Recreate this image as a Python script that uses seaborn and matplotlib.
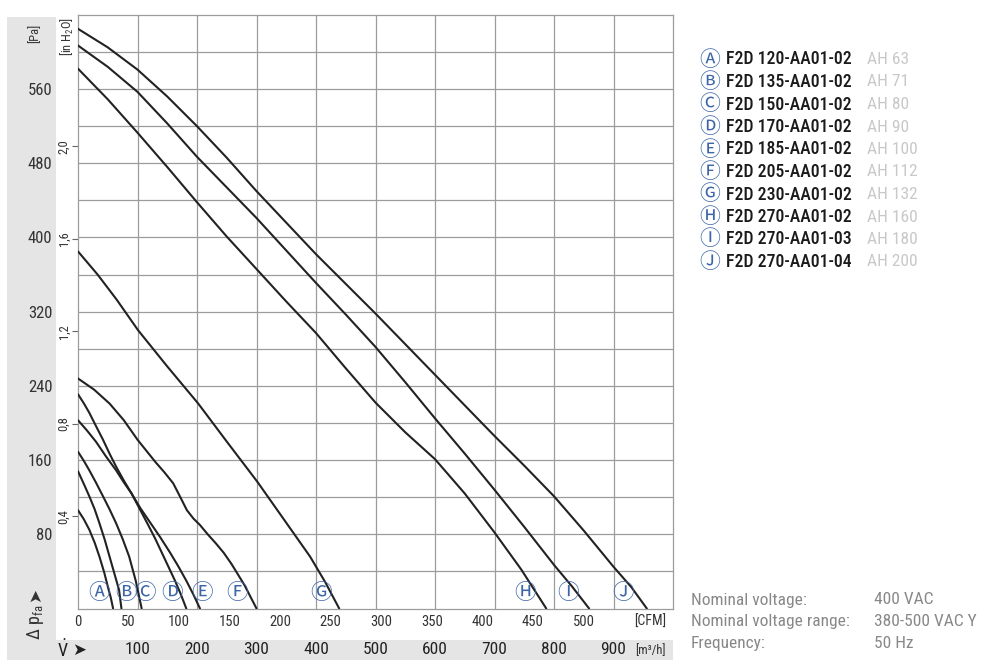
import matplotlib
matplotlib.use("Agg")
import matplotlib.pyplot as plt
from matplotlib import font_manager
from matplotlib.patches import Rectangle
import seaborn as sns
import pandas as pd

# ---------------- data ----------------
fan_letters = ["A", "B", "C", "D", "E", "F", "G", "H", "I", "J"]
fan_models = ["F2D 120-AA01-02", "F2D 135-AA01-02", "F2D 150-AA01-02", "F2D 170-AA01-02",
              "F2D 185-AA01-02", "F2D 205-AA01-02", "F2D 230-AA01-02", "F2D 270-AA01-02",
              "F2D 270-AA01-03", "F2D 270-AA01-04"]
fan_sizes = ["AH 63", "AH 71", "AH 80", "AH 90", "AH 100", "AH 112", "AH 132", "AH 160",
             "AH 180", "AH 200"]

# airflow in m3/h, pressure in Pa
flow_A = [0, 10, 19, 28, 36, 44, 50, 55, 59]
pa_A = [106, 96, 85, 71, 56, 39, 24, 12, 0]
flow_B = [0, 10, 19, 28, 36, 45, 53, 61, 69, 73]
pa_B = [148, 134, 121, 107, 92, 74, 56, 38, 20, 0]
flow_C = [0, 10, 19, 30, 42, 53, 64, 75, 86, 97, 107]
pa_C = [169, 159, 149, 136, 121, 107, 92, 75, 56, 30, 0]
flow_D = [0, 10, 19, 30, 42, 53, 64, 77, 90, 104, 118, 130, 141, 152, 163, 173, 182]
pa_D = [231, 221, 211, 197, 182, 167, 153, 138, 124, 107, 90, 75, 60, 45, 30, 15, 0]
flow_E = [0, 15, 30, 47, 64, 77, 90, 105, 121, 138, 155, 169, 182, 194, 205]
pa_E = [203, 192, 180, 164, 149, 136, 124, 108, 93, 77, 60, 45, 30, 15, 0]
flow_F = [0, 27, 53, 77, 100, 115, 130, 145, 160, 172, 183, 194, 205, 218, 232, 245, 258, 280, 300]
pa_F = [248, 236, 221, 203, 182, 170, 158, 147, 135, 120, 106, 97, 90, 80, 70, 60, 48, 25, 0]
flow_G = [0, 33, 65, 101, 150, 202, 250, 301, 345, 390, 415, 439]
pa_G = [385, 360, 333, 300, 261, 221, 180, 137, 97, 56, 29, 0]
flow_H = [0, 50, 100, 150, 200, 250, 300, 350, 400, 450, 500, 550, 600, 650, 700, 745, 787]
pa_H = [582, 549, 513, 476, 438, 401, 366, 331, 297, 259, 222, 190, 161, 124, 82, 42, 0]
flow_I = [0, 50, 100, 150, 200, 250, 300, 350, 400, 450, 500, 550, 600, 650, 700, 750, 800, 830, 859]
pa_I = [607, 584, 557, 523, 487, 454, 421, 386, 351, 317, 282, 244, 205, 167, 128, 88, 47, 24, 0]
flow_J = [0, 50, 100, 150, 200, 250, 300, 350, 400, 450, 500, 550, 600, 650, 700, 750, 800,
          850, 900, 930, 956]
pa_J = [625, 605, 581, 552, 520, 486, 450, 416, 382, 350, 318, 285, 252, 219, 186, 154, 121,
        84, 45, 23, 0]

flows = [flow_A, flow_B, flow_C, flow_D, flow_E, flow_F, flow_G, flow_H, flow_I, flow_J]
pressures = [pa_A, pa_B, pa_C, pa_D, pa_E, pa_F, pa_G, pa_H, pa_I, pa_J]

# label anchor positions (m3/h) for the circled letters near the bottom
label_flow = [36, 80, 113, 158, 208, 267, 408, 752, 823, 916]

pa_ticks = [80, 160, 240, 320, 400, 480, 560]
inh2o_ticks = [0.4, 0.8, 1.2, 1.6, 2.0]
inh2o_labels = ["0,4", "0,8", "1,2", "1,6", "2,0"]
cfm_ticks = [0, 50, 100, 150, 200, 250, 300, 350, 400, 450, 500]
m3h_ticks = [100, 200, 300, 400, 500, 600, 700, 800, 900]

info_keys = ["Nominal voltage:", "Nominal voltage range:", "Frequency:"]
info_vals = ["400 VAC", "380-500 VAC Y", "50 Hz"]

# ---------------- style ----------------
sns.set_theme(style="white")
names = {f.name for f in font_manager.fontManager.ttflist}
cond = next((n for n in ["Liberation Sans Narrow", "Roboto Condensed", "Roboto", "Liberation Sans"]
             if n in names), "DejaVu Sans")
plt.rcParams["font.family"] = [cond, "DejaVu Sans"]
plt.rcParams["mathtext.fontset"] = "custom"
plt.rcParams["mathtext.rm"] = cond
plt.rcParams["mathtext.it"] = cond
CIRC = ["Noto Sans CJK JP", "DejaVu Sans"]
ARROW = ["DejaVu Sans"]

W, H = 981, 660
def fx(px):
    return px / W
def fy(py):
    return 1 - py / H

BLUE = "#3d66a8"
LINE = "#222222"
GRID = "#9c9c9c"

fig = plt.figure(figsize=(W / 100, H / 100), dpi=100, facecolor="white")
# gray bands
fig.add_artist(Rectangle((fx(7), 0), 49 / W, (H - 17) / H, transform=fig.transFigure,
                         facecolor="#e5e5e5", edgecolor="none", zorder=-5))
fig.add_artist(Rectangle((fx(7), 0), 666 / W, 20 / H, transform=fig.transFigure,
                         facecolor="#e5e5e5", edgecolor="none", zorder=-5))

ax_left, ax_right, ax_top, ax_bot = 78, 673, 14.9, 608.5
ax = fig.add_axes([fx(ax_left), fy(ax_bot), (ax_right - ax_left) / W, (ax_bot - ax_top) / H])
ax.set_facecolor("white")

df = pd.concat([pd.DataFrame({"flow": f, "pressure": p, "fan": l})
                for l, f, p in zip(fan_letters, flows, pressures)], ignore_index=True)
sns.lineplot(data=df, x="flow", y="pressure", hue="fan", palette=[LINE] * len(fan_letters),
             legend=False, sort=False, estimator=None, linewidth=1.5, ax=ax, zorder=3)

ax.set_xlim(0, 1000)
ax.set_ylim(0, 640)
ax.set_xlabel("")
ax.set_ylabel("")

# y: Pa labels (major) + 40 Pa grid (minor)
ax.set_yticks(pa_ticks)
ax.set_yticklabels([str(v) for v in pa_ticks])
ax.set_yticks(list(range(40, 640, 40)), minor=True)
ax.tick_params(axis="y", which="both", length=0, pad=18.5, labelsize=12, labelcolor="#333333")
# x: CFM labels (major) + 100 m3/h grid (minor)
cfm_pos = [c * 1.699 for c in cfm_ticks]
ax.set_xticks(cfm_pos)
ax.set_xticklabels([str(c) for c in cfm_ticks])
ax.set_xticks(m3h_ticks, minor=True)
ax.tick_params(axis="x", which="both", length=0, pad=4.5, labelsize=10.5, labelcolor="#333333")

ax.grid(False)
ax.yaxis.grid(True, which="both", color=GRID, linewidth=0.9)
ax.xaxis.grid(True, which="minor", color=GRID, linewidth=0.9)
ax.xaxis.grid(False, which="major")
for s in ax.spines.values():
    s.set_color(GRID)
    s.set_linewidth(0.9)

# inH2O secondary axis
sec_y = ax.secondary_yaxis("left", functions=(lambda p: p / 249.089, lambda w: w * 249.089))
sec_y.set_yticks(inh2o_ticks)
sec_y.set_yticklabels(inh2o_labels, rotation=90, va="center")
sec_y.tick_params(length=4, width=0.8, color="#666666", pad=1.5, labelsize=9, labelcolor="#333333")
sec_y.spines["left"].set_visible(False)

# m3/h secondary axis
sec_x = ax.secondary_xaxis("bottom", functions=(lambda v: v, lambda v: v))
sec_x.set_xticks(m3h_ticks)
sec_x.set_xticklabels([str(v) for v in m3h_ticks])
sec_x.tick_params(length=0, pad=24, labelsize=12.5, labelcolor="#222222")
sec_x.spines["bottom"].set_visible(False)

# circled letters on the curves
for i, (l, xv) in enumerate(zip(fan_letters, label_flow)):
    ax.text(xv, 17, chr(0x24B6 + i), ha="center", va="center", color=BLUE, fontsize=15.5,
            family=CIRC, zorder=4)

# axis annotation texts
fig.text(fx(35), fy(33), "[Pa]", rotation=90, ha="center", va="center", fontsize=9, color="#333333")
fig.text(fx(67), fy(36), "[in H$_2$O]", rotation=90, ha="center", va="center", fontsize=9,
         color="#333333")
fig.text(fx(35), fy(622), r"Δ p$_{\mathrm{fa}}$", rotation=90, ha="center", va="center",
         fontsize=13, color="#333333")
fig.text(fx(35), fy(595), "➤", rotation=90, ha="center", va="center",
         fontsize=12, color="#333333", family=ARROW)
fig.text(fx(63), fy(650), r"$\dot{\mathrm{V}}$", ha="center", va="center", fontsize=13,
         color="#222222")
fig.text(fx(79), fy(650), "➤", ha="center", va="center", fontsize=12,
         color="#222222", family=ARROW)
fig.text(fx(650), fy(622), "[CFM]", ha="center", va="center", fontsize=10, color="#333333")
fig.text(fx(650), fy(651), "[m³/h]", ha="center", va="center", fontsize=9, color="#333333")

# legend block
for i, (model, size) in enumerate(zip(fan_models, fan_sizes)):
    yy = fy(59.5 + i * 22.5)
    fig.text(fx(709.5), yy, chr(0x24B6 + i), ha="center", va="center", color=BLUE, fontsize=15,
             family=CIRC)
    fig.text(fx(726), yy, model, ha="left", va="center", color="#1a1a1a", fontsize=12.8,
             fontweight="medium")
    fig.text(fx(867), yy, size, ha="left", va="center", color="#c8c8c8", fontsize=12.5)

# info block
for i, (k, v) in enumerate(zip(info_keys, info_vals)):
    yy = fy(600 + i * 21.7)
    fig.text(fx(691), yy, k, ha="left", va="center", color="#888888", fontsize=12.5)
    fig.text(fx(874), yy, v, ha="left", va="center", color="#888888", fontsize=12.5)

fig.savefig("out.png", dpi=100, facecolor="white")
